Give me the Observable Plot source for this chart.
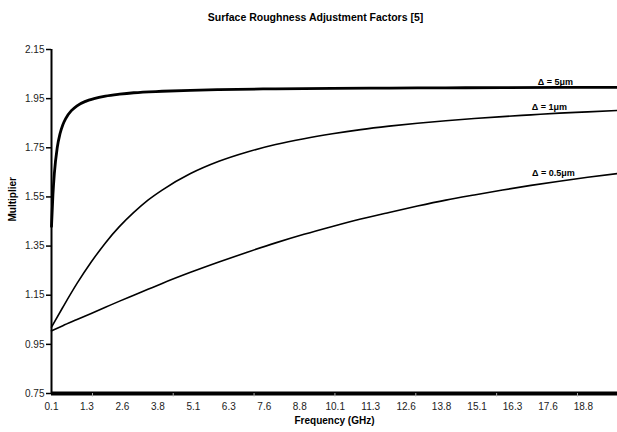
<!DOCTYPE html>
<html><head><meta charset="utf-8">
<script src="https://cdn.jsdelivr.net/npm/d3@7"></script>
<script src="https://cdn.jsdelivr.net/npm/@observablehq/plot@0.6"></script>
<style>body{margin:0;background:#fff;}</style>
</head><body><div id="chart"></div>
<script>
// Frequency (GHz) and multiplier values
const freq5 = [0.1, 0.15, 0.2, 0.3, 0.4, 0.5, 0.6, 0.8, 1.0, 1.3, 1.6, 2, 2.5, 3, 4, 5, 6, 8, 10, 12, 14, 16, 18, 20.05];
const mult5 = [1.430, 1.558, 1.645, 1.749, 1.807, 1.844, 1.869, 1.901, 1.921, 1.939, 1.950, 1.960, 1.968, 1.974, 1.980, 1.984, 1.987, 1.990, 1.992, 1.993, 1.994, 1.995, 1.9956, 1.996];
const freq1 = [0.1, 0.5, 1, 1.5, 2, 2.5, 3, 3.5, 4, 5, 6, 7, 8, 9, 10, 11, 12, 13, 14, 15, 16, 17, 18, 19, 20.05];
const mult1 = [1.020, 1.101, 1.198, 1.285, 1.363, 1.430, 1.487, 1.537, 1.578, 1.645, 1.695, 1.733, 1.763, 1.787, 1.807, 1.824, 1.838, 1.850, 1.860, 1.869, 1.877, 1.884, 1.891, 1.896, 1.902];
const freq05 = [0.1, 0.5, 1, 1.5, 2, 2.5, 3, 3.5, 4, 5, 6, 7, 8, 9, 10, 11, 12, 13, 14, 15, 16, 17, 18, 19, 20.05];
const mult05 = [1.005, 1.026, 1.051, 1.076, 1.101, 1.126, 1.150, 1.174, 1.198, 1.243, 1.285, 1.325, 1.363, 1.398, 1.430, 1.460, 1.487, 1.513, 1.537, 1.558, 1.578, 1.597, 1.614, 1.630, 1.645];
const seriesNames = ["Δ = 5μm", "Δ = 1μm", "Δ = 0.5μm"];
const yTicks = [0.75, 0.95, 1.15, 1.35, 1.55, 1.75, 1.95, 2.15];
const xTickValues = [0.1, 1.35, 2.6, 3.85, 5.1, 6.35, 7.6, 8.85, 10.1, 11.35, 12.6, 13.85, 15.1, 16.35, 17.6, 18.85];
const xTickLabels = ["0.1", "1.3", "2.6", "3.8", "5.1", "6.3", "7.6", "8.8", "10.1", "11.3", "12.6", "13.8", "15.1", "16.3", "17.6", "18.8"];
const xTickMarks = [1.545, 4.39, 7.24, 10.09, 12.94, 15.79, 18.64];
const labelFreq = 18;
const titleText = "Surface Roughness Adjustment Factors [5]";
const xLabel = "Frequency (GHz)";
const yLabel = "Multiplier";

const toRows = (fs, ms, s) => fs.map((f, i) => ({f, m: ms[i], s}));
const rows5 = toRows(freq5, mult5, seriesNames[0]);
const rows1 = toRows(freq1, mult1, seriesNames[1]);
const rows05 = toRows(freq05, mult05, seriesNames[2]);
const labelMap = new Map(xTickValues.map((v, i) => [v, xTickLabels[i]]));
const font = "'Liberation Sans', Arial, Helvetica, sans-serif";

const chart = Plot.plot({
  width: 617, height: 432,
  marginTop: 49, marginBottom: 39, marginLeft: 51, marginRight: 0,
  style: {fontFamily: font, background: "white", color: "#222", overflow: "visible"},
  x: {domain: [0.1, 20.05]},
  y: {domain: [0.75, 2.15]},
  marks: [
    Plot.axisY({ticks: yTicks, tickFormat: d => d.toFixed(2), tickSize: 5, tickPadding: 2, fontSize: 10, label: null, stroke: "#000", strokeWidth: 1.5}),
    Plot.axisX({ticks: xTickValues, tickFormat: d => labelMap.get(d), tickSize: 0, tickPadding: 9, fontSize: 10, label: null}),
    Plot.ruleX([0.1], {stroke: "#000", strokeWidth: 2}),
    Plot.ruleY([0.75], {stroke: "#000", strokeWidth: 4}),
    Plot.ruleX(xTickMarks, {x: d => d, y1: 0.75, y2: 0.736, stroke: "#aaa", strokeWidth: 1}),
    Plot.line(rows05, {x: "f", y: "m", stroke: "#000", strokeWidth: 1.6, curve: "monotone-x"}),
    Plot.line(rows1, {x: "f", y: "m", stroke: "#000", strokeWidth: 1.6, curve: "monotone-x"}),
    Plot.line(rows5, {x: "f", y: "m", stroke: "#000", strokeWidth: 2.8, curve: "monotone-x"}),
    Plot.text(rows5.filter(d => d.f === labelFreq), {x: "f", y: "m", text: "s", dx: -4, dy: -5, fontSize: 9, fontWeight: "bold", fill: "#000"}),
    Plot.text(rows1.filter(d => d.f === labelFreq), {x: "f", y: "m", text: "s", dx: -10, dy: -6, fontSize: 9, fontWeight: "bold", fill: "#000"}),
    Plot.text(rows05.filter(d => d.f === labelFreq), {x: "f", y: "m", text: "s", dx: -6, dy: -8, fontSize: 9, fontWeight: "bold", fill: "#000"}),
    Plot.text([titleText], {frameAnchor: "top", dx: -19, dy: -32, lineAnchor: "middle", fontSize: 10.5, fontWeight: "bold", fill: "#000"}),
    Plot.text([xLabel], {frameAnchor: "bottom", dy: 27, lineAnchor: "middle", fontSize: 10, fontWeight: "bold", fill: "#000"}),
    Plot.text([yLabel], {frameAnchor: "left", dx: -39, rotate: -90, lineAnchor: "middle", fontSize: 10, fontWeight: "bold", fill: "#000"})
  ]
});
document.getElementById("chart").appendChild(chart);
</script>
</body></html>
